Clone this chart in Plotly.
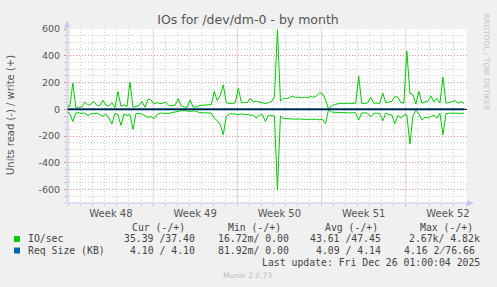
import plotly.graph_objects as go
import pandas as pd

# ---------------- data ----------------
start_time = "2025-11-23 20:00"
step = "6h"

io_write = [
    26, 20, 195, 16, 15, 18, 54, 30, 38, 58,
    30, 28, 68, 30, 26, 48, 12, 133, 24, 32,
    20, 203, 15, 20, 28, 58, 15, 76, 70, 40,
    50, 42, 48, 51, 26, 26, 30, 80, 26, 16,
    16, 70, 16, 16, 28, 30, 30, 32, 35, 133,
    65, 105, 183, 48, 45, 42, 48, 158, 50, 48,
    50, 83, 55, 60, 55, 48, 42, 50, 58, 93,
    595, 61, 82, 80, 86, 100, 88, 92, 86, 90,
    88, 95, 90, 100, 125, 115, 70, 2, 25, 36,
    43, 45, 42, 46, 44, 47, 45, 250, 45, 44,
    48, 91, 46, 46, 44, 121, 50, 55, 58, 95,
    91, 50, 46, 436, 121, 110, 40, 133, 46, 55,
    60, 100, 55, 83, 46, 240, 46, 50, 58, 65,
    46, 58, 44]

io_read = [
    19, 30, 91, 28, 25, 30, 28, 48, 32, 35,
    28, 38, 53, 35, 66, 110, 32, 40, 120, 35,
    45, 40, 150, 30, 32, 35, 48, 61, 53, 71,
    40, 28, 30, 30, 30, 24, 22, 16, 10, 9,
    12, 16, 12, 14, 24, 26, 28, 26, 28, 66,
    85, 115, 190, 53, 35, 32, 38, 40, 35, 38,
    40, 42, 45, 66, 42, 40, 91, 45, 48, 50,
    602, 51, 68, 70, 72, 70, 74, 72, 75, 73,
    76, 74, 72, 75, 78, 74, 106, 2, 20, 24,
    25, 24, 26, 25, 27, 25, 26, 81, 28, 26,
    30, 56, 30, 29, 30, 86, 29, 40, 42, 108,
    45, 66, 42, 41, 260, 53, 4, 35, 80, 60,
    66, 53, 45, 66, 30, 190, 32, 29, 28, 30,
    29, 31, 29]

req_times = ["2025-11-23 20:00", "2025-11-26 20:00", "2025-11-29 20:00", "2025-12-02 20:00",
             "2025-12-05 20:00", "2025-12-08 20:00", "2025-12-11 20:00", "2025-12-14 20:00",
             "2025-12-17 20:00", "2025-12-20 20:00", "2025-12-23 20:00", "2025-12-26 20:00"]
req_write = [4.10, 4.09, 4.10, 4.11, 4.08, 4.10, 4.12, 4.09, 4.10, 4.13, 4.10, 4.10]
req_read = [4.10, 4.08, 4.09, 4.10, 4.09, 4.10, 4.11, 4.08, 4.10, 4.12, 4.10, 4.10]

week_starts = ["2025-11-24", "2025-12-01", "2025-12-08", "2025-12-15", "2025-12-22"]
week_centers = ["2025-11-27 12:00", "2025-12-04 12:00", "2025-12-11 12:00",
                "2025-12-18 12:00", "2025-12-25 12:00"]
week_labels = ["Week 48", "Week 49", "Week 50", "Week 51", "Week 52"]

y_ticks = [-600, -400, -200, 0, 200, 400, 600]
y_labels = ["-600", "-400", "-200", "0", "200", "400", "600"]

stat_header = ["Cur (-/+)", "Min (-/+)", "Avg (-/+)", "Max (-/+)"]
io_stats = ["35.39 /37.40", "16.72m/ 0.00", "43.61 /47.45", "2.67k/ 4.82k"]
req_stats = ["4.10 / 4.10", "81.92m/ 0.00", "4.09 / 4.14", "4.16 2\u033876.66"]
series_names = ["IO/sec", "Req Size (KB)"]
series_colors = ["#00CC00", "#0066B3"]

title = "IOs for /dev/dm-0 - by month"
y_title = "Units read (-) / write (+)"
last_update = "Last update: Fri Dec 26 01:00:04 2025"
footer = "Munin 2.0.73"
side_text = "RRDTOOL / TOBI OETIKER"

# ---------------- figure ----------------
W, H = 497, 287
L, R, T, B = 67, 30, 28.5, 83.5
PW, PH = W - L - R, H - T - B
bottom = H - B


def px(x):
    return (x - L) / PW


def py(y):
    return (bottom - y) / PH


times = pd.date_range(start_time, periods=len(io_write), freq=step)

fig = go.Figure()
fig.add_trace(go.Scatter(x=times, y=io_write, mode="lines",
                         line=dict(color=series_colors[0], width=1)))
fig.add_trace(go.Scatter(x=times, y=[-v for v in io_read], mode="lines",
                         line=dict(color=series_colors[0], width=1)))
fig.add_trace(go.Scatter(x=pd.to_datetime(req_times), y=req_write, mode="lines",
                         line=dict(color=series_colors[1], width=1)))
fig.add_trace(go.Scatter(x=pd.to_datetime(req_times), y=[-v for v in req_read], mode="lines",
                         line=dict(color=series_colors[1], width=1)))

grid_major = "rgba(235,120,120,0.75)"
grid_minor = "#D0D0D0"
axis_col = "#C4C4F2"
txt = "#555555"

shapes = []
for ws in week_starts:
    shapes.append(dict(type="line", xref="x", yref="paper", x0=ws, x1=ws, y0=-0.014, y1=1,
                       line=dict(color=grid_major, width=1, dash="1px,2px"), layer="between"))
# zero rule
shapes.append(dict(type="line", xref="paper", yref="y", x0=0, x1=1, y0=0, y1=0,
                   line=dict(color="#000000", width=1), layer="above"))
# axes with arrows
shapes.append(dict(type="line", xref="paper", yref="paper", x0=0, x1=0, y0=0, y1=py(22),
                   line=dict(color=axis_col, width=1), layer="above"))
shapes.append(dict(type="line", xref="paper", yref="paper", x0=0, x1=px(472), y0=0, y1=0,
                   line=dict(color=axis_col, width=1), layer="above"))
shapes.append(dict(type="path", xref="paper", yref="paper",
                   path=f"M {px(64)} {py(27)} L {px(70)} {py(27)} L {px(67)} {py(20)} Z",
                   fillcolor=axis_col, line=dict(width=0), layer="above"))
shapes.append(dict(type="path", xref="paper", yref="paper",
                   path=f"M {px(467)} {py(200.5)} L {px(467)} {py(206.5)} L {px(474)} {py(bottom)} Z",
                   fillcolor=axis_col, line=dict(width=0), layer="above"))
# legend squares
for k, c in enumerate(series_colors):
    yc = 239.7 + k * 11.6
    shapes.append(dict(type="rect", xref="paper", yref="paper",
                       x0=px(14), x1=px(20), y0=py(yc - 3), y1=py(yc + 3),
                       fillcolor=c, line=dict(width=0)))

mono = dict(family="DejaVu Sans Mono", size=9.8, color="#444444")
ann = []


def add_text(text, x, y, xanchor="left", font=mono, angle=0):
    ann.append(dict(text=text, x=px(x), y=py(y), xref="paper", yref="paper",
                    xanchor=xanchor, yanchor="middle", showarrow=False, font=font,
                    textangle=angle))


hdr_right = [186.7, 283.3, 380, 475]
val_right = [196.7, 290.7, 383.3, 482.3]
for h, xr in zip(stat_header, hdr_right):
    add_text(h, xr, 227.8, "right")
add_text(series_names[0], 26, 239.7)
add_text(series_names[1], 26, 251.3)
for s, xr in zip(io_stats, val_right):
    add_text(s, xr, 239.7, "right")
for s, xr in zip(req_stats[:3], val_right[:3]):
    add_text(s, xr, 251.3, "right")
add_text(req_stats[3], 476.7, 251.3, "right")
add_text(last_update, 482.3, 263.7, "right")
add_text(footer, 247.7, 276, "center",
         font=dict(family="DejaVu Sans", size=7.5, color="#BDBDBD"))
add_text(side_text, 486.5, 62, "center",
         font=dict(family="DejaVu Sans", size=7.5, color="#C4C4C4"), angle=90)
add_text(y_title, 10, 115, "center",
         font=dict(family="DejaVu Sans", size=10, color=txt), angle=-90)

fig.update_layout(
    width=W, height=H,
    margin=dict(l=L, r=R, t=T, b=B, pad=0),
    paper_bgcolor="#F0F0F0", plot_bgcolor="#FFFFFF",
    showlegend=False,
    title=dict(text=title, x=248 / W, xanchor="center", xref="container",
               y=1 - 19.5 / H, yanchor="middle", yref="container",
               font=dict(family="DejaVu Sans", size=12.5, color=txt)),
    xaxis=dict(type="date", range=["2025-11-23 20:25", "2025-12-27 01:56"],
               tickmode="array", tickvals=week_centers, ticktext=week_labels,
               showgrid=False, zeroline=False, showline=False, ticks="",
               ticklabelstandoff=3,
               tickfont=dict(family="DejaVu Sans", size=10, color=txt),
               minor=dict(dtick=86400000, tick0="2025-11-24", showgrid=True,
                          gridcolor=grid_minor, griddash="1px,2px",
                          ticks="outside", ticklen=2, tickcolor="#C8C8C8")),
    yaxis=dict(range=[-700, 600], tickmode="array", tickvals=y_ticks, ticktext=y_labels,
               showgrid=True, gridcolor=grid_major, griddash="1px,2px",
               zeroline=False, showline=False, ticks="outside", ticklen=2,
               tickcolor=grid_major, ticklabelstandoff=2,
               tickfont=dict(family="DejaVu Sans", size=9.5, color=txt),
               minor=dict(dtick=50, tick0=0, showgrid=True, gridcolor=grid_minor,
                          griddash="1px,2px", ticks="outside", ticklen=2,
                          tickcolor="#C8C8C8")),
    shapes=shapes,
    annotations=ann,
)

fig.write_html("out.html")
